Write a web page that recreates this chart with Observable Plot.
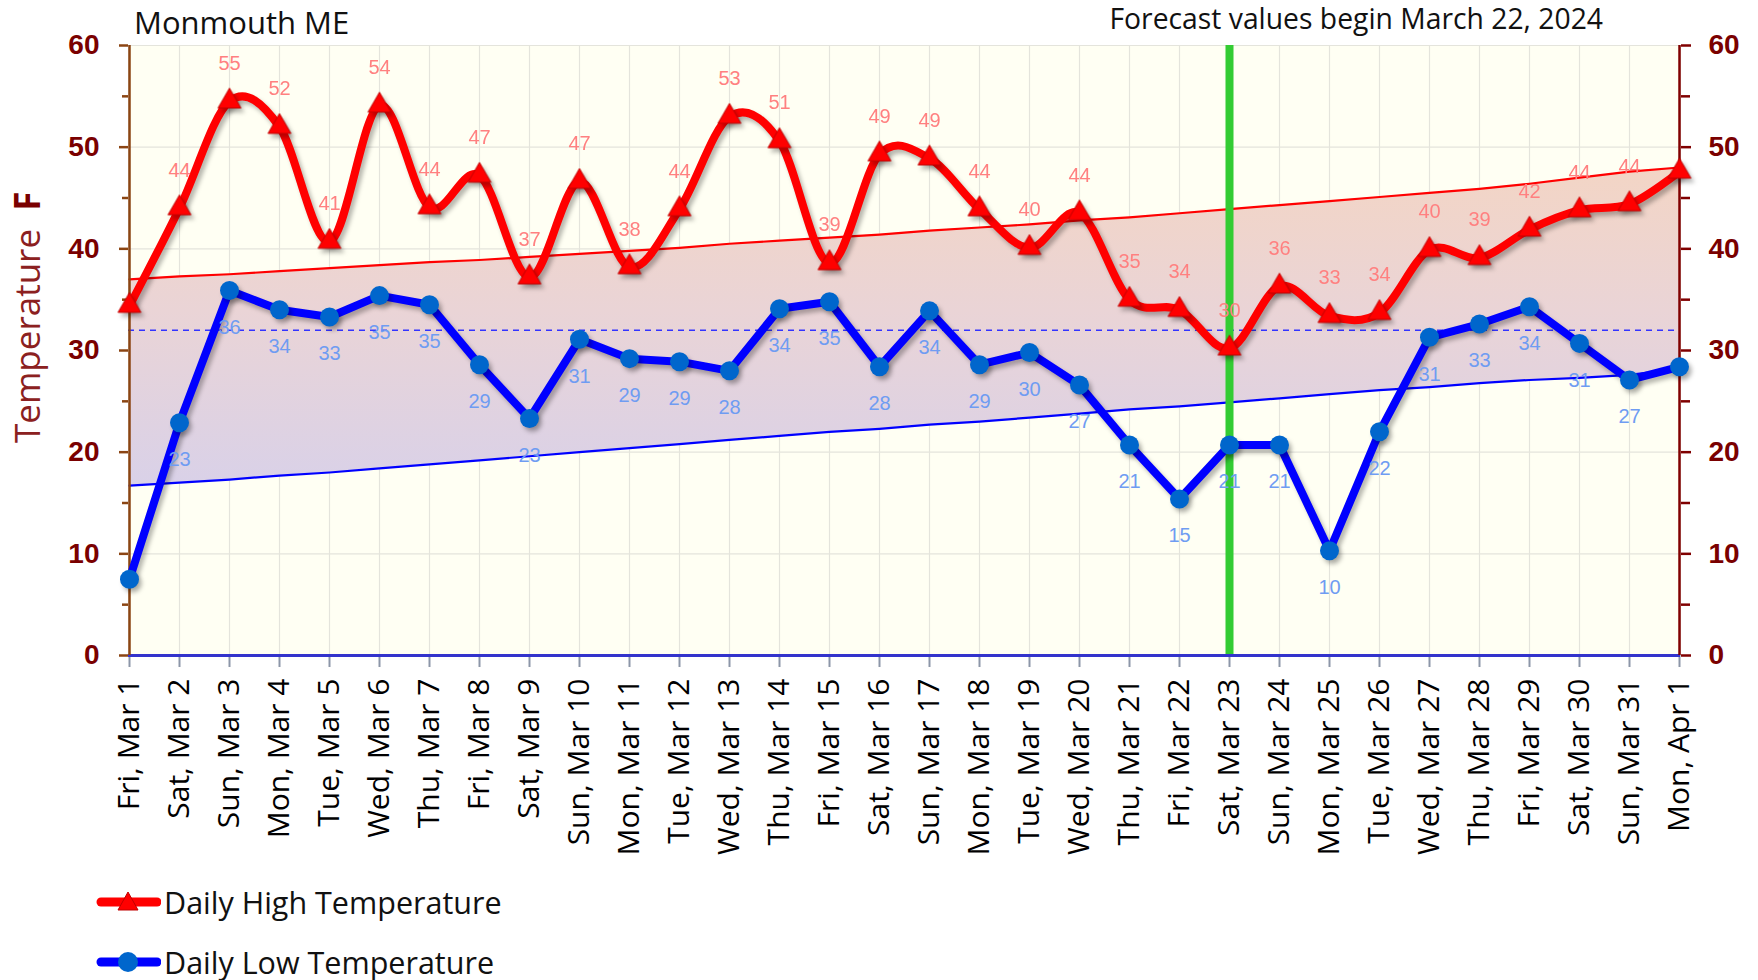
<!DOCTYPE html>
<html>
<head>
<meta charset="utf-8">
<script src="https://cdn.jsdelivr.net/npm/d3@7"></script>
<script src="https://cdn.jsdelivr.net/npm/@observablehq/plot@0.6"></script>
<style>
  body { margin: 0; background: #ffffff; }
  #wrap { position: relative; width: 1758px; height: 980px; font-family: "Open Sans", sans-serif; color: #111; }
  #chart { position: absolute; left: 0; top: 0; }
  .abs { position: absolute; white-space: pre; line-height: 1; }
  #title { left: 134px; top: 7px; font-size: 31px; }
  #note { right: 155px; top: 4px; font-size: 28.3px; }
  #ylabel { left: 9px; top: 443px; font-size: 35px; transform-origin: 0 0; transform: rotate(-90deg); color: #8b2020; }
  #ylabel b { color: #7a0000; font-weight: 700; }
  .leg { position: absolute; left: 95px; height: 40px; display: flex; align-items: center; font-size: 30.5px; line-height: 1; }
  .leg svg { margin-right: 3px; }
</style>
</head>
<body>
<div id="wrap">
  <div id="chart"></div>
  <div id="title" class="abs">Monmouth ME</div>
  <div id="note" class="abs">Forecast values begin March 22, 2024</div>
  <div id="ylabel" class="abs">Temperature  <b>F</b></div>
  <div id="legend"></div>
</div>
<script>
// ---- data ----
const days = [
  "Fri, Mar 1", "Sat, Mar 2", "Sun, Mar 3", "Mon, Mar 4", "Tue, Mar 5", "Wed, Mar 6", "Thu, Mar 7",
  "Fri, Mar 8", "Sat, Mar 9", "Sun, Mar 10", "Mon, Mar 11", "Tue, Mar 12", "Wed, Mar 13", "Thu, Mar 14",
  "Fri, Mar 15", "Sat, Mar 16", "Sun, Mar 17", "Mon, Mar 18", "Tue, Mar 19", "Wed, Mar 20", "Thu, Mar 21",
  "Fri, Mar 22", "Sat, Mar 23", "Sun, Mar 24", "Mon, Mar 25", "Tue, Mar 26", "Wed, Mar 27", "Thu, Mar 28",
  "Fri, Mar 29", "Sat, Mar 30", "Sun, Mar 31", "Mon, Apr 1"
];
const highs = [
  34.4, 44.0, 54.5, 52.0, 40.7, 54.1, 44.1, 47.2, 37.2, 46.6, 38.2, 43.9, 53.0, 50.6, 38.6, 49.3,
  48.9, 43.9, 40.1, 43.5, 35.0, 34.0, 30.2, 36.3, 33.4, 33.7, 39.9, 39.1, 41.9, 43.8, 44.4, 47.6
];
const lows = [
  7.5, 22.9, 35.9, 34.0, 33.3, 35.4, 34.5, 28.6, 23.3, 31.1, 29.2, 28.9, 28.0, 34.1, 34.8, 28.4,
  33.9, 28.6, 29.8, 26.6, 20.7, 15.4, 20.7, 20.7, 10.3, 22.0, 31.3, 32.6, 34.3, 30.7, 27.1, 28.4
];
const normalHighs = [
  37.0, 37.3, 37.5, 37.8, 38.1, 38.4, 38.7, 38.9, 39.2, 39.5, 39.8, 40.1, 40.5, 40.8, 41.1, 41.4,
  41.8, 42.1, 42.4, 42.8, 43.1, 43.5, 43.9, 44.3, 44.7, 45.1, 45.5, 45.9, 46.4, 47.0, 47.6, 48.0
];
const normalLows = [
  16.7, 17.0, 17.3, 17.7, 18.0, 18.4, 18.8, 19.2, 19.6, 20.0, 20.4, 20.8, 21.2, 21.6, 22.0, 22.3,
  22.7, 23.0, 23.4, 23.8, 24.2, 24.5, 24.9, 25.3, 25.7, 26.1, 26.4, 26.8, 27.1, 27.3, 27.6, 28.2
];
const yTicks = [0, 10, 20, 30, 40, 50, 60];
const yMinorTicks = [5, 15, 25, 35, 45, 55];
const freezing = 32;
const forecastDay = "Sat, Mar 23";

// ---- table ----
const rows = days.map((d, i) => ({day: d, high: highs[i], low: lows[i], nh: normalHighs[i], nl: normalLows[i]}));
const labelled = rows.slice(1, rows.length - 1);

const gradientDefs = () => {
  const ns = "http://www.w3.org/2000/svg";
  const defs = document.createElementNS(ns, "defs");
  const g = document.createElementNS(ns, "linearGradient");
  g.setAttribute("id", "bandGrad");
  g.setAttribute("x1", "0"); g.setAttribute("y1", "0");
  g.setAttribute("x2", "0"); g.setAttribute("y2", "1");
  [["0", "#f3d5c5"], ["0.45", "#ead4d6"], ["1", "#d9d1e8"]].forEach(([o, c]) => {
    const s = document.createElementNS(ns, "stop");
    s.setAttribute("offset", o); s.setAttribute("stop-color", c);
    g.appendChild(s);
  });
  defs.appendChild(g);
  return defs;
};

const shadow = "drop-shadow(3px 4px 2px rgba(0,0,0,0.28))";
const numFont = "Liberation Sans, Arial, sans-serif";

const chart = Plot.plot({
  width: 1758,
  height: 880,
  marginTop: 45,
  marginLeft: 128,
  marginRight: 78,
  marginBottom: 225,
  style: {background: "transparent", overflow: "visible"},
  x: {type: "point", domain: days, padding: 0},
  y: {domain: [0, 60]},
  marks: [
    gradientDefs,
    Plot.frame({fill: "#fffff3", stroke: "#e6e6de"}),
    Plot.gridY(yTicks, {stroke: "#e4e4dc", strokeOpacity: 1, strokeWidth: 1.2}),
    Plot.gridX(days, {stroke: "#e4e4dc", strokeOpacity: 1, strokeWidth: 1.2}),
    Plot.areaY(rows, {x: "day", y1: "nl", y2: "nh", fill: "url(#bandGrad)"}),
    Plot.lineY(rows, {x: "day", y: "nh", stroke: "#ff0000", strokeWidth: 2.2}),
    Plot.lineY(rows, {x: "day", y: "nl", stroke: "#0000ff", strokeWidth: 2.2}),
    Plot.ruleY([freezing], {stroke: "#3333ff", strokeWidth: 1.5, strokeDasharray: "6,5"}),
    Plot.ruleX([forecastDay], {stroke: "#33cc33", strokeWidth: 8}),
    // x axis
    Plot.axisX({anchor: "bottom", tickRotate: -90, tickSize: 12, tickPadding: 11, stroke: "#8c96a8", strokeWidth: 2,
      fill: "#000", fontSize: 30, fontFamily: "Open Sans, sans-serif", label: null}),
    Plot.ruleY([0], {stroke: "#3333cc", strokeWidth: 3}),
    // left axis
    Plot.ruleX([days[0]], {stroke: "#8b4513", strokeWidth: 2.5}),
    Plot.axisY(yTicks, {anchor: "left", tickSize: 9, tickPadding: 20, stroke: "#8b4513", strokeWidth: 2.5,
      fill: "#7a0000", fontSize: 28, fontWeight: "bold", fontFamily: numFont, label: null}),
    Plot.axisY(yMinorTicks, {anchor: "left", tickSize: 6, stroke: "#8b4513", strokeWidth: 2.5, tickFormat: () => "", label: null}),
    // right axis
    Plot.ruleX([days[days.length - 1]], {stroke: "#800000", strokeWidth: 2.5}),
    Plot.axisY(yTicks, {anchor: "right", tickSize: 10, tickPadding: 18, stroke: "#800000", strokeWidth: 2.5,
      fill: "#7a0000", fontSize: 28, fontWeight: "bold", fontFamily: numFont, label: null}),
    Plot.axisY(yMinorTicks, {anchor: "right", tickSize: 9, stroke: "#800000", strokeWidth: 2.5, tickFormat: () => "", label: null}),
    // series
    Plot.lineY(rows, {x: "day", y: "low", stroke: "#0000ff", strokeWidth: 8, strokeLinejoin: "round", imageFilter: shadow}),
    Plot.dot(rows, {x: "day", y: "low", r: 9.5, fill: "#0066cc", stroke: "none", imageFilter: shadow}),
    Plot.lineY(rows, {x: "day", y: "high", curve: "cardinal", stroke: "#ff0000", strokeWidth: 8, imageFilter: shadow}),
    Plot.dot(rows, {x: "day", y: "high", symbol: "triangle", r: 8.5, fill: "#ff0000", stroke: "#c00000", strokeWidth: 1, imageFilter: shadow}),
    // data labels
    Plot.text(labelled, {x: "day", y: "high", text: d => String(Math.round(d.high)), dy: -38,
      fill: "#ff8080", fontSize: 20, fontFamily: numFont}),
    Plot.text(labelled, {x: "day", y: "low", text: d => String(Math.round(d.low)), dy: 37,
      fill: "#6f9cf2", fontSize: 20, fontFamily: numFont})
  ]
});
document.getElementById("chart").appendChild(chart);

// ---- legend ----
const legendItems = [
  {label: "Daily High Temperature", color: "#ff0000", marker: "triangle", y: 882},
  {label: "Daily Low Temperature", color: "#0000ff", marker: "circle", y: 942}
];
const legend = document.getElementById("legend");
legendItems.forEach(item => {
  const row = document.createElement("div");
  row.className = "leg";
  row.style.top = item.y + "px";
  const marker = item.marker === "triangle"
    ? `<path d="M33,10 L43,28 L23,28 Z" fill="#ff0000" stroke="#c00000" stroke-width="1"/>`
    : `<circle cx="33" cy="20" r="10" fill="#0066cc"/>`;
  row.innerHTML = `<svg width="66" height="40"><line x1="6" y1="20" x2="62" y2="20" stroke="${item.color}" stroke-width="9" stroke-linecap="round"/>${marker}</svg><span>${item.label}</span>`;
  legend.appendChild(row);
});
</script>
</body>
</html>
